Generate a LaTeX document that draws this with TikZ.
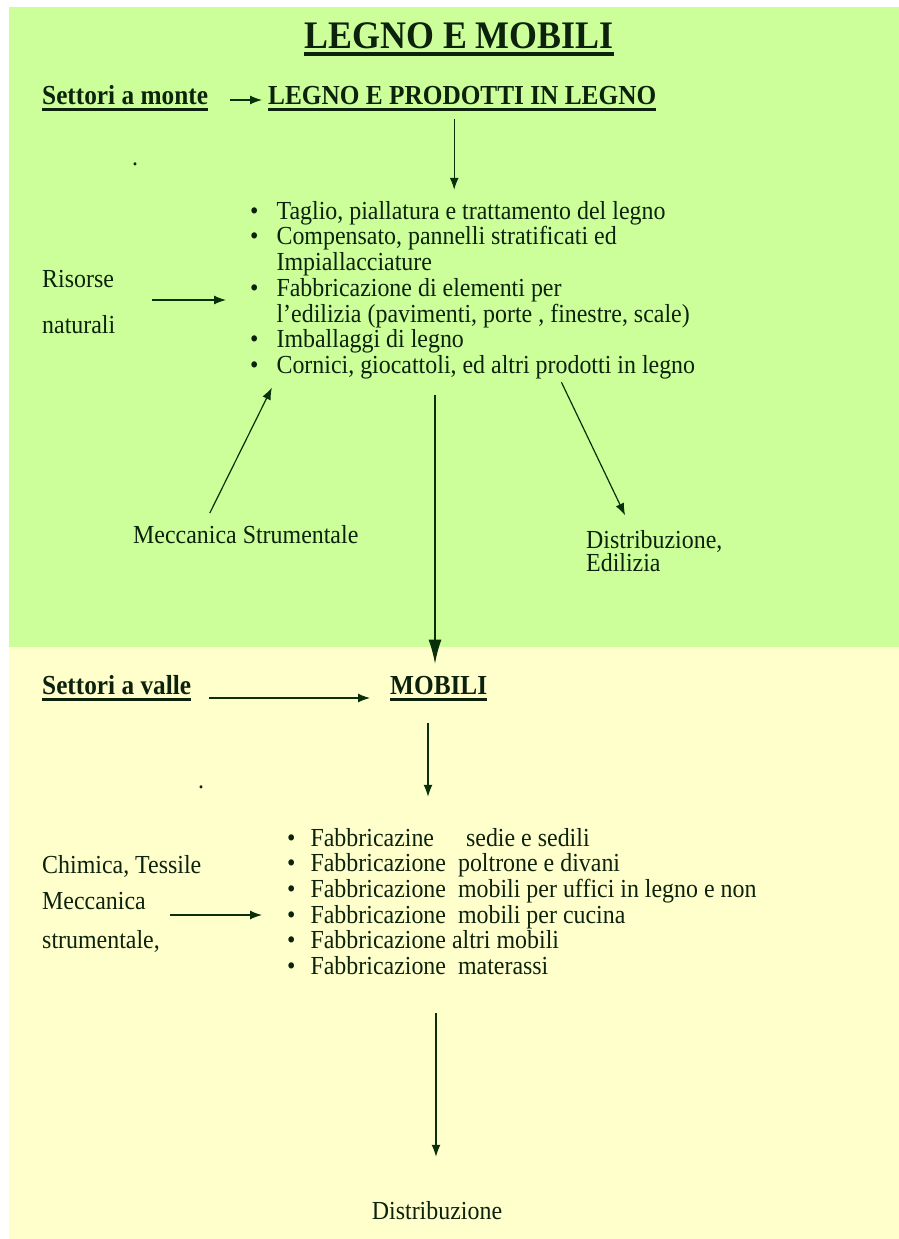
\documentclass[tikz,border=0pt]{standalone}
\usepackage{fontspec}
\setmainfont[FakeStretch=0.92]{Liberation Serif}
\usetikzlibrary{arrows.meta, positioning}

\definecolor{leafgreen}{HTML}{CCFF99}
\definecolor{paleyellow}{HTML}{FFFFCC}
\definecolor{inkgreen}{HTML}{0C220C}
\definecolor{arrowgreen}{HTML}{0A300A}

% thick underline for headings
\newcommand{\heavyul}[1]{\setbox0=\hbox{#1}\rlap{\rule[-6.5bp]{\wd0}{3bp}}\box0}
\newcommand{\titleul}[1]{\setbox0=\hbox{#1}\rlap{\rule[-8bp]{\wd0}{4bp}}\box0}

\begin{document}
\begin{tikzpicture}[
      x=1bp, y=-1bp,
      txt/.style={inner sep=0pt, text=inkgreen,
        font=\fontsize{26bp}{25.4bp}\selectfont},
      headline/.style={txt, font=\fontsize{27.5bp}{27bp}\selectfont\bfseries},
      maintitle/.style={txt, font=\fontsize{39bp}{40bp}\selectfont\bfseries},
      arrow/.style={-{Latex[length=12bp, width=9bp]}, draw=arrowgreen,
        line width=1.2bp},
      bigarrow/.style={-{Latex[length=24bp, width=13bp]}, draw=arrowgreen,
        line width=1.2bp}
    ]
    \useasboundingbox (0,0) rectangle (899,1239);
    \fill[white] (0,0) rectangle (899,1239);
    \fill[leafgreen] (9,7) rectangle (899,647);
    \fill[paleyellow] (9,647) rectangle (899,1239);

    % upper part
    \node[maintitle, anchor=base] (title) at (459,48) {\titleul{LEGNO E MOBILI}};
    \node[headline, anchor=base west] (monte) at (42,104) {\heavyul{Settori a monte}};
    \node[headline, anchor=base west] (prodotti) at (268,104)
        {\heavyul{LEGNO E PRODOTTI IN LEGNO}};
    \node[txt, anchor=base] (speck1) at (135,165) {.};
    \node[txt, anchor=base west] (legno) at (250,219) {%
      \begin{tabular}[t]{@{}l@{\hspace{18bp}}l@{}}
        \textbullet & Taglio, piallatura e trattamento del legno\\
        \textbullet & Compensato, pannelli stratificati ed\\
                    & Impiallacciature\\
        \textbullet & Fabbricazione di elementi per\\
                    & l’edilizia (pavimenti, porte , finestre, scale)\\
        \textbullet & Imballaggi di legno\\
        \textbullet & Cornici, giocattoli, ed altri prodotti in legno
      \end{tabular}};
    \node[txt, anchor=base west] (risorse) at (42,287) {Risorse};
    \node[txt, anchor=base west] (naturali) at (42,333) {naturali};
    \node[txt, anchor=base west] (mecc) at (133,543) {Meccanica Strumentale};
    \node[txt, anchor=base west] (distr) at (586,548) {%
      \begin{tabular}[t]{@{}l@{}}
        Distribuzione,\\[-2bp]
        Edilizia
      \end{tabular}};

    % lower part
    \node[headline, anchor=base west] (valle) at (42,694) {\heavyul{Settori a valle}};
    \node[headline, anchor=base west] (mobili) at (390,694) {\heavyul{MOBILI}};
    \node[txt, anchor=base] (speck2) at (201,788) {.};
    \node[txt, anchor=base west] (mobprod) at (287,846) {%
      \begin{tabular}[t]{@{}l@{\hspace{15bp}}l@{}}
        \textbullet & Fabbricazine\hspace*{26bp} sedie e sedili\\
        \textbullet & Fabbricazione\ \ poltrone e divani\\
        \textbullet & Fabbricazione\ \ mobili per uffici in legno e non\\
        \textbullet & Fabbricazione\ \ mobili per cucina\\
        \textbullet & Fabbricazione altri mobili\\
        \textbullet & Fabbricazione\ \ materassi
      \end{tabular}};
    \node[txt, anchor=base west] (chimica) at (42,873) {Chimica, Tessile};
    \node[txt, anchor=base west] (meccv) at (42,909) {Meccanica};
    \node[txt, anchor=base west] (strum) at (42,948) {strumentale,};
    \node[txt, anchor=base] (fine) at (437,1219) {Distribuzione};

    \draw[arrow, shorten <=22bp, shorten >=6bp]
      ([yshift=4bp]monte.base east) -- ([yshift=4bp]monte.base east -| prodotti.west);
    \draw[arrow, shorten <=8bp, shorten >=11bp]
      ([xshift=-8bp]prodotti.south) -- ([xshift=-8bp]prodotti.south |- legno.north);
    \draw[arrow, shorten <=38bp, shorten >=24bp]
      ([yshift=-13bp]risorse.base east) -- ([yshift=-13bp]risorse.base east -| legno.west);
    \draw[arrow, shorten <=13bp, shorten >=7bp]
      ([xshift=71bp]mecc.north west) -- ([xshift=25bp]legno.south west);
    \draw[arrow, shorten <=1bp, shorten >=16bp]
      ([xshift=311bp]legno.south west) -- ([xshift=46bp]distr.north west);
    \draw[bigarrow, shorten <=14bp, shorten >=12bp]
      ([xshift=185bp]legno.south west) -- ([xshift=185bp]legno.south west |- mobili.north);
    \draw[arrow, shorten <=18bp, shorten >=20bp]
      ([yshift=-4bp]valle.base east) -- ([yshift=-4bp]valle.base east -| mobili.west);
    \draw[arrow, shorten <=22bp, shorten >=31bp]
      ([xshift=38bp]mobili.south west) -- ([xshift=38bp]mobili.south west |- mobprod.north);
    \draw[arrow, shorten <=24bp, shorten >=25bp]
      ([yshift=-6bp]meccv.base east) -- ([yshift=-6bp]meccv.base east -| mobprod.west);
    \draw[arrow, shorten <=31bp, shorten >=44bp]
      ([xshift=149bp]mobprod.south west) -- ([xshift=149bp]mobprod.south west |- fine.north);
  \end{tikzpicture}
\end{document}
